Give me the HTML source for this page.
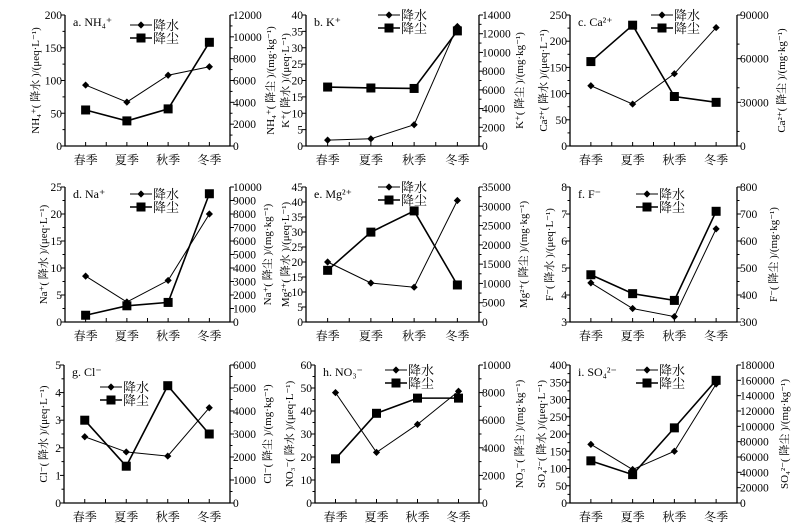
<!DOCTYPE html>
<html><head><meta charset="utf-8">
<style>
html,body{margin:0;padding:0;background:#fff;}
svg{display:block;font-family:"Liberation Serif","Noto Serif CJK SC","Noto Sans CJK SC",serif;}
</style></head>
<body>
<svg id="chart" width="812" height="527" viewBox="0 0 812 527"></svg>
<script>
const categories = ["春季","夏季","秋季","冬季"];
const rainNH4 = [93,67,108,121];
const dustNH4 = [3300,2300,3400,9500];
const rainK = [1.8,2.2,6.5,36.5];
const dustK = [6300,6200,6150,12300];
const rainCa = [115,80,138,226];
const dustCa = [58000,83000,34000,30000];
const rainNa = [8.5,3.7,7.7,20];
const dustNa = [500,1200,1450,9500];
const rainMg = [20,13,11.6,40.5];
const dustMg = [13400,23300,28800,9600];
const rainF = [4.45,3.5,3.2,6.45];
const dustF = [475,405,380,710];
const rainCl = [2.4,1.85,1.7,3.45];
const dustCl = [3600,1600,5100,3000];
const rainNO3 = [48,22,34.2,48.6];
const dustNO3 = [3200,6500,7600,7600];
const rainSO4 = [170,97,150,345];
const dustSO4 = [55000,37000,98000,160000];

const NS="http://www.w3.org/2000/svg";
const svg=document.getElementById('chart');
function mk(tag,attrs,parent){const e=document.createElementNS(NS,tag);for(const k in attrs)e.setAttribute(k,attrs[k]);(parent||svg).appendChild(e);return e;}

const panels=[
 {id:'nh4',title:'a. NH₄⁺',ion:'NH₄⁺',x0:65,x1:230,y0:15,y1:146,L:[0,200,50,25],R:[0,12000,2000,1000],rain:rainNH4,dust:dustNH4,lg:[130,25],lt:39,rt:274},
 {id:'k',title:'b. K⁺',ion:'K⁺',x0:306,x1:479,y0:15,y1:146,L:[0,40,5,0],R:[0,14000,2000,1000],rain:rainK,dust:dustK,lg:[378,15],lt:289,rt:523},
 {id:'ca',title:'c. Ca²⁺',ion:'Ca²⁺',x0:570,x1:737,y0:15,y1:146,L:[0,250,50,25],R:[0,90000,30000,10000],rain:rainCa,dust:dustCa,lg:[651,15],lt:547,rt:785},
 {id:'na',title:'d. Na⁺',ion:'Na⁺',x0:65,x1:230,y0:187,y1:322,L:[0,25,5,2.5],R:[0,10000,1000,0],rain:rainNa,dust:dustNa,lg:[130,194],lt:47,rt:271},
 {id:'mg',title:'e. Mg²⁺',ion:'Mg²⁺',x0:306,x1:479,y0:187,y1:322,L:[0,45,5,0],R:[0,35000,5000,2500],rain:rainMg,dust:dustMg,lg:[378,187],lt:289,rt:527},
 {id:'f',title:'f. F⁻',ion:'F⁻',x0:570,x1:737,y0:187,y1:322,L:[3,8,1,0.5],R:[300,800,100,50],rain:rainF,dust:dustF,lg:[636,194],lt:553,rt:777},
 {id:'cl',title:'g. Cl⁻',ion:'Cl⁻',x0:64,x1:230,y0:365,y1:503,L:[0,5,1,0.5],R:[0,6000,1000,500],rain:rainCl,dust:dustCl,lg:[100,387],lt:47,rt:271},
 {id:'no3',title:'h. NO₃⁻',ion:'NO₃⁻',x0:315,x1:479,y0:365,y1:503,L:[0,60,10,5],R:[0,10000,2000,1000],rain:rainNO3,dust:dustNO3,lg:[385,370],lt:293,rt:523},
 {id:'so4',title:'i. SO₄²⁻',ion:'SO₄²⁻',x0:570,x1:737,y0:365,y1:503,L:[0,400,50,25],R:[0,180000,20000,0],rain:rainSO4,dust:dustSO4,lg:[636,370],lt:545,rt:788}
];

function diamond(g,x,y){return mk('path',{d:`M${x} ${y-3.6}L${x+3.6} ${y}L${x} ${y+3.6}L${x-3.6} ${y}Z`,fill:'#000'},g);}
function square(g,x,y){return mk('rect',{x:x-4.5,y:y-4.5,width:9,height:9,fill:'#000'},g);}

panels.forEach(p=>{
 const g=mk('g',{});
 
 
 const w=p.x1-p.x0;
 const xS=i=>p.x0+(i+0.5)*w/4;
 const yL=v=>p.y1-(v-p.L[0])/(p.L[1]-p.L[0])*(p.y1-p.y0);
 const yR=v=>p.y1-(v-p.R[0])/(p.R[1]-p.R[0])*(p.y1-p.y0);
 const ax=mk('path',{d:`M${p.x0} ${p.y0}V${p.y1}H${p.x1}V${p.y0}`,fill:'none',stroke:'#000','stroke-width':1.3},g);
 
 
 for(let v=p.L[0];v<=p.L[1]+1e-9;v+=p.L[2]){
  const y=yL(v);
  mk('line',{x1:p.x0-4,x2:p.x0,y1:y,y2:y,stroke:'#000'},g);
  const t=mk('text',{x:p.x0-3,y:y+4,'text-anchor':'end','font-size':11.5},g);
  t.textContent=String(Math.round(v*100)/100);
  
  
 }
 if(p.L[3])for(let v=p.L[0]+p.L[3];v<p.L[1];v+=p.L[2]){const y=yL(v);mk('line',{x1:p.x0-2.5,x2:p.x0,y1:y,y2:y,stroke:'#000'},g);}
 for(let v=p.R[0];v<=p.R[1]+1e-9;v+=p.R[2]){
  const y=yR(v);
  mk('line',{x1:p.x1,x2:p.x1+4,y1:y,y2:y,stroke:'#000'},g);
  const t=mk('text',{x:p.x1+3,y:y+4,'font-size':11.5},g);
  t.textContent=String(v);
  
  
 }
 if(p.R[3])for(let v=p.R[0]+p.R[3];v<p.R[1];v+=p.R[2]){const y=yR(v);mk('line',{x1:p.x1,x2:p.x1+2.5,y1:y,y2:y,stroke:'#000'},g);}
 for(let i=0;i<=8;i++){const x=p.x0+i*w/8;mk('line',{x1:x,x2:x,y1:p.y1,y2:p.y1-4,stroke:'#000'},g);}
 categories.forEach((c,i)=>{
  const t=mk('text',{x:xS(i),y:p.y1+18,'text-anchor':'middle','font-size':12},g);
  t.textContent=c;
  
  
 });
 const tt=mk('text',{x:p.x0+8,y:p.y0+11,'font-size':12},g);
 tt.textContent=p.title;
 
 
 const cy=(p.y0+p.y1)/2;
 const yl=mk('text',{x:0,y:0,'text-anchor':'middle','font-size':11,transform:`translate(${p.lt},${cy}) rotate(-90)`},g);
 yl.textContent=p.ion+'( 降水 )/(μeq·L⁻¹)';
 
 
 const yr=mk('text',{x:0,y:0,'text-anchor':'middle','font-size':11,transform:`translate(${p.rt},${cy}) rotate(-90)`},g);
 yr.textContent=p.ion+'( 降尘 )/(mg·kg⁻¹)';
 
 
 const dl=mk('polyline',{points:p.dust.map((v,i)=>xS(i)+','+yR(v)).join(' '),fill:'none',stroke:'#000','stroke-width':1.6},g);
 
 
 const rl=mk('polyline',{points:p.rain.map((v,i)=>xS(i)+','+yL(v)).join(' '),fill:'none',stroke:'#000','stroke-width':1},g);
 
 
 p.dust.forEach((v,i)=>{const s=square(g,xS(i),yR(v));
  
  });
 p.rain.forEach((v,i)=>{const d=diamond(g,xS(i),yL(v));
  
  });
 const lg=mk('g',{},g);
 
 
 const [lx,ly]=p.lg;
 mk('line',{x1:lx,x2:lx+22,y1:ly,y2:ly,stroke:'#000','stroke-width':1},lg);
 diamond(lg,lx+11,ly);
 const t1=mk('text',{x:lx+23,y:ly+5,'font-size':13},lg);t1.textContent='降水';
 
 
 mk('line',{x1:lx,x2:lx+22,y1:ly+13,y2:ly+13,stroke:'#000','stroke-width':1.6},lg);
 square(lg,lx+11,ly+13);
 const t2=mk('text',{x:lx+23,y:ly+18,'font-size':13},lg);t2.textContent='降尘';
 
 
});
</script>
</body></html>
